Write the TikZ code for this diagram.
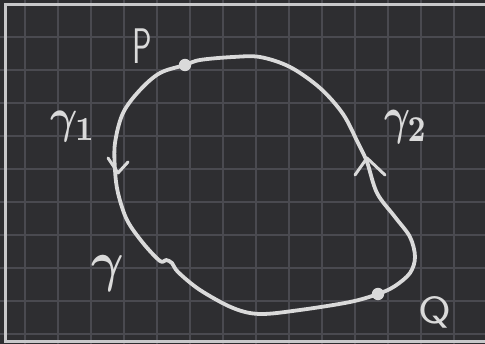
\documentclass[tikz,border=0pt]{standalone}
\usepackage{fontspec}
\begin{document}
\begin{tikzpicture}[x=1pt,y=-1pt,
  ink/.style={draw=inkc,line width=3.8pt,line cap=round,line join=round},
  lbl/.style={text=inkc,inner sep=0pt},
  gridln/.style={draw=gridc,line width=1.4pt}]
\definecolor{bgc}{HTML}{2E2E31}
\definecolor{gridc}{HTML}{4A4A50}
\definecolor{inkc}{HTML}{DADADA}
\definecolor{framec}{HTML}{C8C8CA}
\fill[bgc] (0,0) rectangle (485,344);
\useasboundingbox (0,0) rectangle (485,344);
% grid
\foreach \x in {25,58,91,124,157,190,223,256,289,322,355,388,421,454}
  \draw[gridln] (\x,0) -- (\x,344);
\foreach \y in {37,70,103,136,169,202,235,268,301,334}
  \draw[gridln] (0,\y) -- (485,\y);
% frame
\draw[framec,line width=3pt] (495,4.5) -- (5.5,4.5) -- (5.5,341.5) -- (495,341.5);
% named points
\coordinate (P) at (185,65);
\coordinate (Q) at (378,294);
% closed curve
\draw[ink] plot[smooth cycle,tension=0.55] coordinates {
  (185,65) (200,60) (233,57) (260,57) (290,67) (320,88) (343,114) (358,143)
  (367,162) (377,193) (395,217) (410,237) (415,257) (410,273) (395,286) (378,294)
  (350,302) (300,310) (260,314) (233,308) (200,290) (178,272) (172,263)
  (166,260) (160,261) (143,243) (127,220) (118,193) (115,170) (115,143)
  (123,113) (140,90) (160,73)};
% dots
\fill[inkc] (P) circle (6.2);
\fill[inkc] (Q) circle (6.2);
% arrowheads
\coordinate (a1) at (118,173);
\coordinate (a2) at (367,158);
\draw[ink,line width=3pt] (108,158) -- (a1) -- (128,162);
\draw[ink,line width=3pt] (355,175) -- (a2) -- (385,175);
% labels
\node[lbl,xscale=0.65] (lp) at (142,46) {\fontsize{50}{50}\selectfont\sffamily P};
\node[lbl] (lg1) at (73,127) {\scalebox{4.2}[4.8]{\boldmath$\gamma_{1}$}};
\node[lbl] (lg2) at (406,127) {\scalebox{4}[5.2]{\boldmath$\gamma_{2}$}};
\node[lbl] (lg) at (108,274) {\scalebox{5}[5.6]{\boldmath$\gamma$}};
\node[lbl,xscale=1.25] (lq) at (435,312) {\fontsize{38}{38}\selectfont\sffamily Q};
\end{tikzpicture}
\end{document}
